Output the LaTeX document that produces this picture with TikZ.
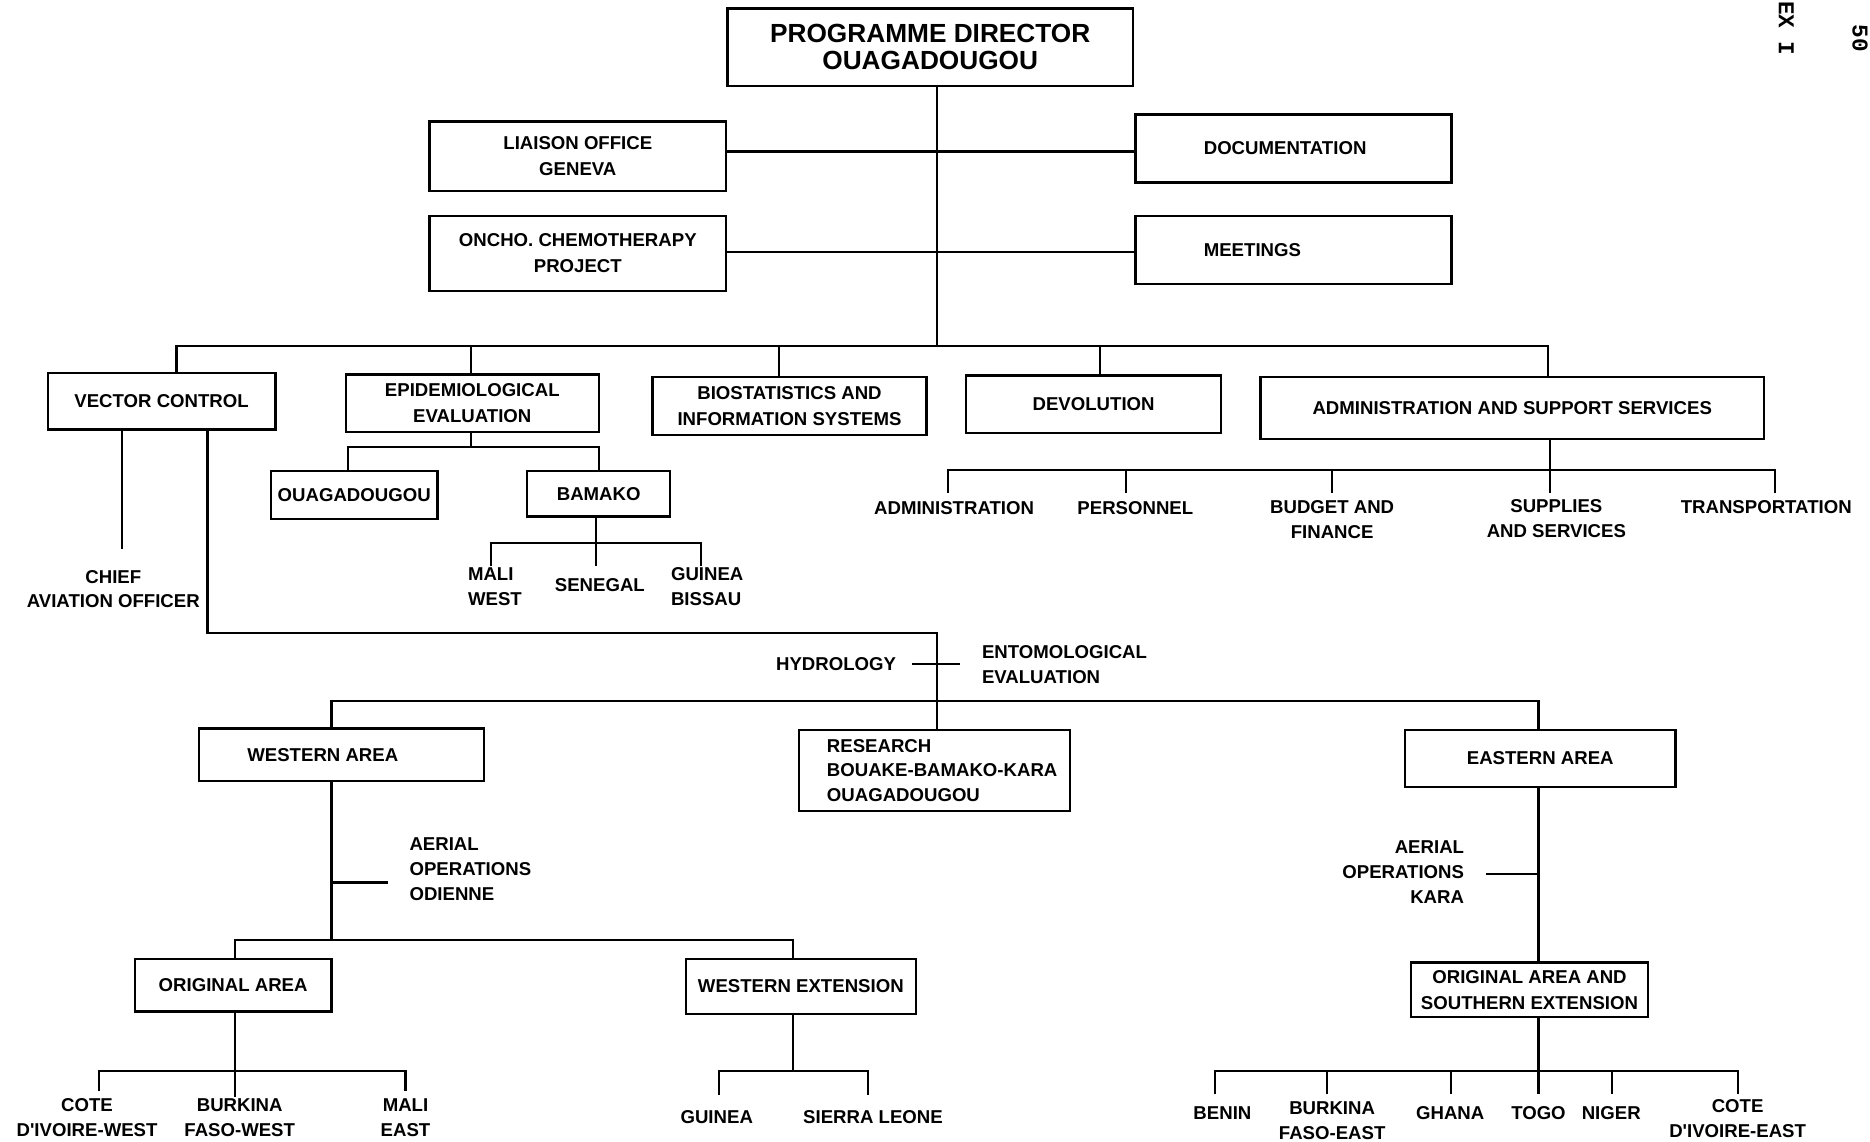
\documentclass[tikz,border=0pt]{standalone}
\usepackage{fontspec}
\newfontfamily\lab{Liberation Sans}
\newfontfamily\marg{Liberation Mono}
\begin{document}
\begin{tikzpicture}[x=0.5pt,y=-0.5pt,
  box/.style={draw, line width=1pt, inner sep=0pt, align=center, font=\lab\bfseries\fontsize{7.8}{10.8}\selectfont},
  lbl/.style={inner sep=0pt, align=center, font=\lab\bfseries\fontsize{7.8}{10.4}\selectfont},
  mtext/.style={rotate=-90, inner sep=0pt, anchor=base east, font=\marg\bfseries\fontsize{9.5}{9.5}\selectfont},
  ln/.style={line width=0.9pt}]
\useasboundingbox[fill=white] (0,0) rectangle (1568,957);

% ---------- boxes ----------
\node[box, minimum width=170pt, minimum height=32.5pt, font=\lab\bfseries\fontsize{11}{11.6}\selectfont] (pd) at (780,39.5) {PROGRAMME DIRECTOR\\OUAGADOUGOU};
\node[box, minimum width=124.5pt, minimum height=29pt] (lia) at (484.5,131) {LIAISON OFFICE\\GENEVA};
\node[box, minimum width=124.5pt, minimum height=31.5pt] (onc) at (484.5,212.5) {ONCHO. CHEMOTHERAPY\\PROJECT};
\node[box, minimum width=132.5pt, minimum height=28.5pt] (doc) at (1084.5,124.5) {};
\node[lbl, anchor=west] (doct) at ([xshift=29pt]doc.west) {DOCUMENTATION};
\node[box, minimum width=132.5pt, minimum height=28.5pt] (meet) at (1084.5,209.5) {};
\node[lbl, anchor=west] (meett) at ([xshift=29pt]meet.west) {MEETINGS};

\node[box, minimum width=95.5pt, minimum height=23.5pt] (vc) at (135.5,336.5) {VECTOR CONTROL};
\node[box, minimum width=106pt, minimum height=24pt] (epi) at (396,338) {EPIDEMIOLOGICAL\\EVALUATION};
\node[box, minimum width=115pt, minimum height=24.5pt] (bio) at (662,340.5) {BIOSTATISTICS AND\\INFORMATION SYSTEMS};
\node[box, minimum width=107pt, minimum height=24pt] (dev) at (917,339) {DEVOLUTION};
\node[box, minimum width=211pt, minimum height=26pt] (adm) at (1268,342) {ADMINISTRATION AND SUPPORT SERVICES};
\node[box, minimum width=70pt, minimum height=20pt] (oua) at (297,415) {OUAGADOUGOU};
\node[box, minimum width=60pt, minimum height=19pt] (bam) at (502,414) {BAMAKO};

\node[box, minimum width=119.5pt, minimum height=22pt] (wa) at (286.5,633) {};
\node[lbl, anchor=west] (wat) at ([xshift=20.5pt]wa.west) {WESTERN AREA};
\node[box, minimum width=113.5pt, minimum height=34pt] (res) at (783.5,646) {};
\node[lbl, anchor=west, align=left] (rest) at ([xshift=12pt]res.west) {RESEARCH\\BOUAKE-BAMAKO-KARA\\OUAGADOUGOU};
\node[box, minimum width=113.5pt, minimum height=24pt] (ea) at (1291.5,636) {EASTERN AREA};
\node[box, minimum width=82.5pt, minimum height=22pt] (oa) at (195.5,826) {ORIGINAL AREA};
\node[box, minimum width=96.5pt, minimum height=23pt] (we) at (671.5,827) {WESTERN EXTENSION};
\node[box, minimum width=99.5pt, minimum height=23pt] (oas) at (1282.5,830) {ORIGINAL AREA AND\\SOUTHERN EXTENSION};

% ---------- plain labels ----------
\node[lbl] (cao) at (95,494) {CHIEF\\AVIATION OFFICER};
\node[lbl, align=left] (mw) at (415,492) {MALI\\WEST};
\node[lbl] (sen) at (503,491) {SENEGAL};
\node[lbl, align=left] (gb) at (593,492) {GUINEA\\BISSAU};
\node[lbl] (hyd) at (701,557) {HYDROLOGY};
\node[lbl, anchor=west, align=left] (ent) at (823,557) {ENTOMOLOGICAL\\EVALUATION};
\node[lbl, anchor=west, align=left] (aod) at (343,729) {AERIAL\\OPERATIONS\\ODIENNE};
\node[lbl, anchor=east, align=right] (aok) at (1228,731) {AERIAL\\OPERATIONS\\KARA};

\node[lbl] (sadm) at (800,426) {ADMINISTRATION};
\node[lbl] (sper) at (952,426) {PERSONNEL};
\node[lbl] (sbud) at (1117,436) {BUDGET AND\\FINANCE};
\node[lbl] (ssup) at (1305,435) {SUPPLIES\\AND SERVICES};
\node[lbl] (stra) at (1481,425) {TRANSPORTATION};

\node[lbl] (ciw) at (73,937) {COTE\\D'IVOIRE-WEST};
\node[lbl] (bfw) at (201,937) {BURKINA\\FASO-WEST};
\node[lbl] (mae) at (340,937) {MALI\\EAST};
\node[lbl] (gui) at (601,937) {GUINEA};
\node[lbl] (sl) at (732,937) {SIERRA LEONE};
\node[lbl] (ben) at (1025,933) {BENIN};
\node[lbl] (bfe) at (1117,940) {BURKINA\\FASO-EAST};
\node[lbl] (gha) at (1216,933) {GHANA};
\node[lbl] (tog) at (1290,933) {TOGO};
\node[lbl] (nig) at (1351,933) {NIGER};
\node[lbl] (cie) at (1457,938) {COTE\\D'IVOIRE-EAST};

\node[mtext] (annex) at (1491.5,47) {EX I};
\node[mtext] (page) at (1553.5,44) {50};

% ---------- connectors ----------
\coordinate (t) at (786,290);
\draw[ln] (pd.south -| t) -- (t);
\coordinate (r1) at (786,127);
\coordinate (r2) at (786,211);
\draw[ln] (lia.east |- r1) -- (doc.west |- r1);
\draw[ln] (onc.east |- r2) -- (meet.west |- r2);

\coordinate (b0) at (148,290);
\coordinate (b1) at (395,290);
\coordinate (b2) at (653,290);
\coordinate (b3) at (922,290);
\coordinate (b4) at (1298,290);
\draw[ln] (vc.north -| b0) -- (b0) -- (b4) -- (adm.north -| b4);
\draw[ln] (b1) -- (epi.north -| b1);
\draw[ln] (b2) -- (bio.north -| b2);
\draw[ln] (b3) -- (dev.north -| b3);

% epidemiological
\coordinate (e0) at (395,375);
\coordinate (e1) at (292,375);
\coordinate (e2) at (502,375);
\draw[ln] (epi.south -| e0) -- (e0);
\draw[ln] (oua.north -| e1) -- (e1) -- (e2) -- (bam.north -| e2);
\coordinate (m0) at (500,455);
\coordinate (m1) at (412,455);
\coordinate (m2) at (588,455);
\coordinate (m0e) at (500,475);
\coordinate (m1e) at (412,475);
\coordinate (m2e) at (588,475);
\draw[ln] (bam.south -| m0) -- (m0e);
\draw[ln] (m1e) -- (m1) -- (m2) -- (m2e);

% vector control
\coordinate (c1) at (102,460);
\draw[ln] (vc.south -| c1) -- (c1);
\coordinate (h0) at (174,531);
\coordinate (h1) at (786,531);
\draw[ln] (vc.south -| h0) -- (h0) -- (h1) -- (res.north -| h1);
\coordinate (k0) at (765,557);
\coordinate (k1) at (805,557);
\draw[ln] (k0) -- (k1);
\coordinate (w0) at (278,588);
\coordinate (w1) at (1290,588);
\draw[ln] (wa.north -| w0) -- (w0) -- (w1) -- (ea.north -| w1);

% western area
\coordinate (a0) at (278,788);
\coordinate (a1) at (278,740);
\coordinate (a2) at (325,740);
\draw[ln] (wa.south -| a0) -- (a0);
\draw[ln] (a1) -- (a2);
\coordinate (o1) at (197,788);
\coordinate (o2) at (665,788);
\draw[ln] (oa.north -| o1) -- (o1) -- (o2) -- (we.north -| o2);

\coordinate (p0) at (197,898);
\coordinate (p1) at (83,898);
\coordinate (p2) at (340,898);
\coordinate (p0e) at (197,920);
\coordinate (p1e) at (83,915);
\coordinate (p2e) at (340,915);
\draw[ln] (oa.south -| p0) -- (p0e);
\draw[ln] (p1e) -- (p1) -- (p2) -- (p2e);

\coordinate (q0) at (665,898);
\coordinate (q1) at (603,898);
\coordinate (q2) at (728,898);
\coordinate (q1e) at (603,918);
\coordinate (q2e) at (728,918);
\draw[ln] (we.south -| q0) -- (q0);
\draw[ln] (q1e) -- (q1) -- (q2) -- (q2e);

% eastern area
\coordinate (n0) at (1290,733);
\coordinate (n1) at (1246,733);
\draw[ln] (ea.south -| w1) -- (oas.north -| w1);
\draw[ln] (n1) -- (n0);
\coordinate (s0) at (1290,917);
\coordinate (s1) at (1019,898);
\coordinate (s2) at (1457,898);
\coordinate (s1e) at (1019,917);
\coordinate (s2e) at (1457,917);
\coordinate (s3) at (1113,898);
\coordinate (s3e) at (1113,917);
\coordinate (s4) at (1217,898);
\coordinate (s4e) at (1217,917);
\coordinate (s5) at (1352,898);
\coordinate (s5e) at (1352,917);
\draw[ln] (oas.south -| s0) -- (s0);
\draw[ln] (s1e) -- (s1) -- (s2) -- (s2e);
\draw[ln] (s3) -- (s3e);
\draw[ln] (s4) -- (s4e);
\draw[ln] (s5) -- (s5e);

% administration
\coordinate (d0) at (1300,394);
\coordinate (d0e) at (1300,413);
\coordinate (d1) at (795,394);
\coordinate (d1e) at (795,413);
\coordinate (d2) at (944,394);
\coordinate (d2e) at (944,413);
\coordinate (d3) at (1117,394);
\coordinate (d3e) at (1117,413);
\coordinate (d4) at (1488,394);
\coordinate (d4e) at (1488,413);
\draw[ln] (adm.south -| d0) -- (d0e);
\draw[ln] (d1e) -- (d1) -- (d4) -- (d4e);
\draw[ln] (d2) -- (d2e);
\draw[ln] (d3) -- (d3e);
\end{tikzpicture}
\end{document}
